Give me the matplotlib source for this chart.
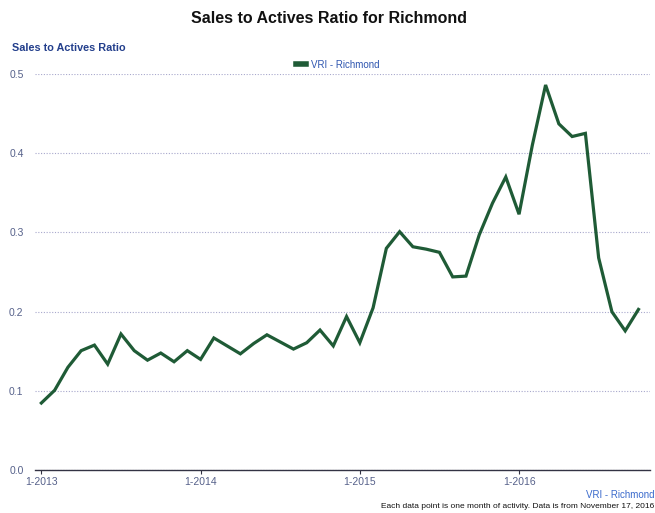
import matplotlib

matplotlib.use("Agg")
import matplotlib.pyplot as plt
from matplotlib.lines import Line2D

plt.rcParams["font.family"] = ["Liberation Sans", "DejaVu Sans"]

# monthly sales-to-actives ratio, Jan 2013 .. Oct 2016
ratio_2013 = [0.085, 0.101, 0.130, 0.151, 0.158, 0.134, 0.172, 0.151, 0.139, 0.148, 0.137, 0.151]
ratio_2014 = [0.140, 0.167, 0.157, 0.147, 0.160, 0.171, 0.162, 0.153, 0.161, 0.177, 0.157, 0.194]
ratio_2015 = [0.161, 0.205, 0.280, 0.301, 0.282, 0.279, 0.275, 0.244, 0.245, 0.297, 0.337, 0.370]
ratio_2016 = [0.323, 0.410, 0.486, 0.437, 0.421, 0.425, 0.268, 0.200, 0.176, 0.203]
ratios = ratio_2013 + ratio_2014 + ratio_2015 + ratio_2016
months = list(range(len(ratios)))

year_ticks = [0, 12, 24, 36]
year_labels = ["1-2013", "1-2014", "1-2015", "1-2016"]
y_ticks = [0.0, 0.1, 0.2, 0.3, 0.4, 0.5]

LINE = "#1f5b36"
BLUE = "#233f8c"
TICK = "#56618a"
GRID = "#a8a8cc"

fig = plt.figure(figsize=(6.55, 5.13), dpi=100, facecolor="white")
ax = fig.add_axes([0.053, 0.083, 0.940, 0.773])

ax.plot(months, ratios, color=LINE, linewidth=2.3, solid_joinstyle="miter")

ax.set_xlim(-0.5, 45.9)
ax.set_ylim(0, 0.5)
ax.set_yticks(y_ticks)
ax.set_yticklabels([f"{v:.1f}" for v in y_ticks])
ax.set_xticks(year_ticks)
ax.set_xticklabels(year_labels)
ax.tick_params(axis="y", length=0, labelsize=7.5, labelcolor=TICK, pad=8)
ax.tick_params(axis="x", length=3, width=0.8, color="#333344", labelsize=7.5,
               labelcolor=TICK, pad=2)
for side in ("top", "right", "left"):
    ax.spines[side].set_visible(False)
ax.spines["bottom"].set_color("#333344")
ax.spines["bottom"].set_linewidth(1.0)
ax.grid(axis="y", color=GRID, linestyle=(0, (1, 1.5)), linewidth=0.8)
ax.set_axisbelow(True)
ax.patch.set_visible(False)

fig.text(0.503, 0.963, "Sales to Actives Ratio for Richmond", ha="center", va="center",
         fontsize=11.5, fontweight="bold", color="#111111")
fig.text(0.018, 0.907, "Sales to Actives Ratio", ha="left", va="center",
         fontsize=7.8, fontweight="bold", color=BLUE)

handle = Line2D([], [], color=LINE, linewidth=4)
ax.legend([handle], ["VRI - Richmond"], loc="upper center", bbox_to_anchor=(0.492, 1.058),
          frameon=False, fontsize=7, labelcolor="#2f56b0", handlelength=1.1,
          handletextpad=0.5)

fig.text(0.999, 0.036, "VRI - Richmond", ha="right", va="center", fontsize=7, color="#3a6acc")
fig.text(0.999, 0.012, "Each data point is one month of activity. Data is from November 17, 2016",
         ha="right", va="center", fontsize=6.0, color="#111111")

fig.savefig("out.png", dpi=100, facecolor="white")
